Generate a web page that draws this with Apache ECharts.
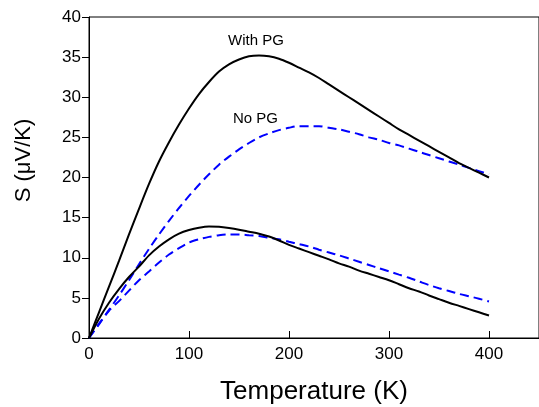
<!DOCTYPE html>
<html>
<head>
<meta charset="utf-8">
<script src="https://cdn.jsdelivr.net/npm/echarts@6/dist/echarts.min.js"></script>
<style>html,body{margin:0;padding:0;background:#fff}#c{width:539px;height:407px}</style>
</head>
<body>
<div id="c"></div>
<script>
var temps = [0,10,20,30,40,50,60,70,80,90,100,110,120,130,140,150,160,170,180,190,200,210,220,230,240,250,260,270,280,290,300,310,320,330,340,350,360,370,380,390,400];
var withPGUpper = [0,3.2,6.4,9.6,12.9,16.1,19.2,22.0,24.4,26.6,28.6,30.4,31.9,33.2,34.1,34.7,35.1,35.2,35.1,34.8,34.3,33.7,33.1,32.4,31.6,30.8,30.0,29.2,28.4,27.6,26.8,26.0,25.3,24.6,23.9,23.2,22.5,21.8,21.2,20.6,20.0];
var noPGUpper = [0,1.7,3.5,5.3,7.2,9.2,11.1,12.9,14.6,16.2,17.7,19.1,20.4,21.6,22.6,23.5,24.3,25.0,25.5,25.9,26.2,26.4,26.4,26.4,26.2,26.0,25.7,25.4,25.0,24.7,24.3,24.0,23.6,23.2,22.8,22.4,22.0,21.6,21.2,20.8,20.4];
var withPGLower = [0,2.4,4.4,6.1,7.6,8.9,10.3,11.4,12.3,13.0,13.45,13.75,13.9,13.85,13.7,13.5,13.25,13.0,12.65,12.15,11.6,11.15,10.7,10.25,9.8,9.3,8.9,8.4,8.0,7.6,7.2,6.7,6.2,5.8,5.3,4.85,4.4,4.0,3.6,3.2,2.8];
var noPGLower = [0,1.8,3.4,4.6,5.9,7.2,8.3,9.4,10.4,11.2,11.9,12.3,12.6,12.8,12.9,12.9,12.8,12.7,12.5,12.3,12.0,11.7,11.4,11.0,10.65,10.3,9.9,9.5,9.1,8.7,8.3,7.9,7.5,7.05,6.6,6.2,5.85,5.5,5.2,4.9,4.55];
var xTicks = [0,100,200,300,400];
var yTicks = [0,5,10,15,20,25,30,35,40];
var xTitle = 'Temperature (K)';
var yTitle = 'S (\u03bcV/K)';
var labelWith = 'With PG';
var labelNo = 'No PG';

function pairs(ys){ return temps.map(function(t,i){ return [t, ys[i]]; }); }
var FONT = '"Liberation Sans", Arial, sans-serif';

var chart = echarts.init(document.getElementById('c'));
var solid = {color:'#000', width:2};
var dashed = {color:'#0000ff', width:2, type:[9,5]};
chart.setOption({
  animation:false,
  grid:{left:89, right:0, top:17, bottom:69, containLabel:false, outerBoundsMode:'none',
    show:true, borderColor:'#000', borderWidth:1, backgroundColor:'transparent'},
  xAxis:{
    type:'value', min:0, max:450, interval:100,
    axisLine:{show:true, onZero:false, lineStyle:{color:'#000', width:1}},
    axisTick:{show:true, inside:true, length:7, lineStyle:{color:'#000'},
      customValues: xTicks},
    axisLabel:{color:'#000', fontFamily:FONT, fontSize:17, margin:8,
      customValues: xTicks},
    splitLine:{show:false},
    name:xTitle, nameLocation:'middle', nameGap:41,
    nameTextStyle:{color:'#000', fontFamily:FONT, fontSize:26}
  },
  yAxis:{
    type:'value', min:0, max:40, interval:5,
    axisLine:{show:true, onZero:false, lineStyle:{color:'#000', width:1}},
    axisTick:{show:true, inside:false, length:7, lineStyle:{color:'#000'},
      customValues: yTicks},
    axisLabel:{color:'#000', fontFamily:FONT, fontSize:17, margin:8,
      customValues: yTicks},
    splitLine:{show:false},
    name:yTitle, nameLocation:'middle', nameGap:54, nameRotate:90,
    nameTextStyle:{color:'#000', fontFamily:FONT, fontSize:22, padding:[0,0,0,34]}
  },
  graphic:[
    {type:'text', left:228, top:33, style:{text:labelWith, fill:'#000', font:'15px ' + FONT}},
    {type:'text', left:233, top:111, style:{text:labelNo, fill:'#000', font:'15px ' + FONT}}
  ],
  series:[
    {type:'line', data:pairs(withPGUpper), showSymbol:false, smooth:0.3, lineStyle:solid, z:3},
    {type:'line', data:pairs(noPGUpper), showSymbol:false, smooth:0.3, lineStyle:dashed, z:2},
    {type:'line', data:pairs(withPGLower), showSymbol:false, smooth:0.3, lineStyle:solid, z:3},
    {type:'line', data:pairs(noPGLower), showSymbol:false, smooth:0.3, lineStyle:dashed, z:2}
  ]
});
</script>
</body>
</html>
